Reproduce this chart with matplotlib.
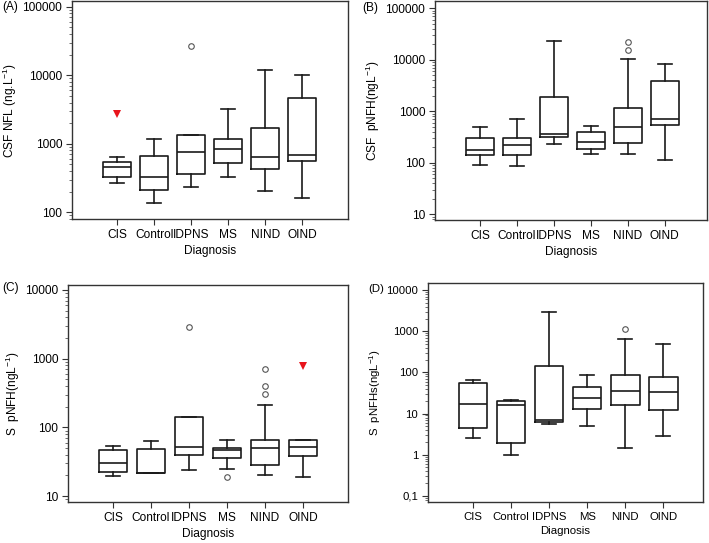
import numpy as np
import matplotlib
matplotlib.use("Agg")
import matplotlib.pyplot as plt
from matplotlib.ticker import LogLocator, NullFormatter, FuncFormatter

plt.rcParams['font.family'] = ['Liberation Sans', 'DejaVu Sans']
plt.rcParams['mathtext.default'] = 'regular'

# --- Data ---
CATS = ['CIS', 'Control', 'IDPNS', 'MS', 'NIND', 'OIND']

# (A) CSF NFL
A_LO  = [271, 135, 237, 327, 207, 164]
A_Q1  = [331, 212, 358, 519, 424, 567]
A_MED = [453, 331, 767, 849, 634, 686]
A_Q3  = [548, 663, 1358, 1186, 1680, 4600]
A_HI  = [634, 1175, 1358, 3180, 12000, 10070]
A_OUT = [[], [], [27000], [], [], []]
A_EXT = [[2716], [], [], [], [], []]

# (B) CSF pNFH
B_LO  = [89, 88, 232, 146, 146, 113]
B_Q1  = [144, 144, 313, 188, 243, 543]
B_MED = [180, 219, 368, 250, 497, 700]
B_Q3  = [295, 295, 1870, 391, 1143, 3880]
B_HI  = [497, 700, 23200, 512, 10400, 8430]
B_OUT = [[], [], [], [], [15500, 22200], []]
B_EXT = [[], [], [], [], [], []]

# (C) S pNFH
C_LO  = [19.3, 21.6, 24.1, 25.0, 20.4, 18.7]
C_Q1  = [22.3, 21.6, 40.0, 35.6, 27.9, 37.7]
C_MED = [30.2, 21.6, 51.0, 47.6, 49.4, 51.0]
C_Q3  = [47.0, 48.2, 142, 50.4, 64.5, 65.2]
C_HI  = [52.7, 63.0, 142, 66.0, 210, 65.2]
C_OUT = [[], [], [2860], [18.7], [304, 406, 701], []]
C_EXT = [[], [], [], [], [], [794]]

# (D) S pNFHs
D_LO  = [2.6, 0.96, 5.5, 5.0, 1.48, 2.9]
D_Q1  = [4.5, 1.93, 6.2, 12.8, 16.3, 12.0]
D_MED = [17.2, 15.9, 7.0, 23.7, 34.5, 33.0]
D_Q3  = [54, 20.4, 143, 45, 87, 77]
D_HI  = [66, 21.9, 3000, 86, 660, 490]
D_OUT = [[], [], [], [], [1160], []]
D_EXT = [[], [], [], [], [], []]

W, H = 709, 543
LINE = '#1a1a1a'


def fmt_tick(v, pos):
    if v < 1:
        return ('%g' % v).replace('.', ',')
    return '%d' % round(v)


def panel(rect, letter, letter_xy, ylabel, lo, q1, med, q3, hi, out, ext,
          ylim, xlim, yticks, fs):
    l, r, t, b = rect
    ax = fig.add_axes([l / W, 1 - b / H, (r - l) / W, (b - t) / H])
    stats = []
    for i in range(len(CATS)):
        stats.append(dict(whislo=lo[i], q1=q1[i], med=med[i], q3=q3[i],
                          whishi=hi[i], fliers=out[i]))
    pos = np.arange(1, len(CATS) + 1)
    lp = dict(color=LINE, linewidth=1.2)
    ax.bxp(stats, positions=pos, widths=0.75, capwidths=0.37,
           boxprops=lp, whiskerprops=lp, capprops=lp,
           medianprops=dict(color=LINE, linewidth=1.2),
           flierprops=dict(marker='o', markersize=4, markerfacecolor='white',
                           markeredgecolor='#555555', markeredgewidth=0.8),
           showfliers=True)
    for i, vals in enumerate(ext):
        if vals:
            ax.plot([pos[i]] * len(vals), vals, linestyle='none', marker='v',
                    markersize=6, color='#e8141c', markeredgewidth=0)
    ax.set_yscale('log')
    ax.set_ylim(*ylim)
    ax.set_xlim(*xlim)
    ax.set_xticks(pos)
    ax.set_xticklabels(CATS, fontsize=fs)
    ax.set_yticks(yticks)
    ax.yaxis.set_major_formatter(FuncFormatter(fmt_tick))
    ax.yaxis.set_minor_locator(LogLocator(base=10, subs=np.arange(2, 10), numticks=100))
    ax.yaxis.set_minor_formatter(NullFormatter())
    ax.tick_params(axis='both', which='major', labelsize=fs, length=4.5,
                   width=0.8, color='#333333', pad=2.5)
    ax.tick_params(axis='y', which='minor', length=2.5, width=0.6, color='#555555')
    for s in ax.spines.values():
        s.set_color('#333333')
        s.set_linewidth(1.0)
    ax.set_xlabel('Diagnosis', fontsize=fs, labelpad=3)
    ax.set_ylabel(ylabel, fontsize=fs, labelpad=2.5)
    fig.text(letter_xy[0] / W, 1 - letter_xy[1] / H, letter, fontsize=fs,
             ha='left', va='center')
    return ax


fig = plt.figure(figsize=(W / 100, H / 100), dpi=100)

panel((72, 348, 1, 219), '(A)', (2, 7), 'CSF NFL (ng.L$^{-1}$)',
      A_LO, A_Q1, A_MED, A_Q3, A_HI, A_OUT, A_EXT,
      (80, 121000), (-0.22, 7.24), [100, 1000, 10000, 100000], 8.6)
panel((435, 707, 1, 220), '(B)', (362, 8), 'CSF  pNFH(ngL$^{-1}$)',
      B_LO, B_Q1, B_MED, B_Q3, B_HI, B_OUT, B_EXT,
      (7.7, 138000), (-0.22, 7.14), [10, 100, 1000, 10000, 100000], 8.6)
panel((68, 348, 285, 502), '(C)', (2, 288), 'S  pNFH(ngL$^{-1}$)',
      C_LO, C_Q1, C_MED, C_Q3, C_HI, C_OUT, C_EXT,
      (8.2, 11800), (-0.18, 7.18), [10, 100, 1000, 10000], 8.6)
panel((428, 703, 283, 502), '(D)', (368, 289), 'S  pNFHs(ngL$^{-1}$)',
      D_LO, D_Q1, D_MED, D_Q3, D_HI, D_OUT, D_EXT,
      (0.0703, 15100), (-0.18, 7.04), [0.1, 1, 10, 100, 1000, 10000], 8.2)

fig.savefig('out.png', dpi=100)
